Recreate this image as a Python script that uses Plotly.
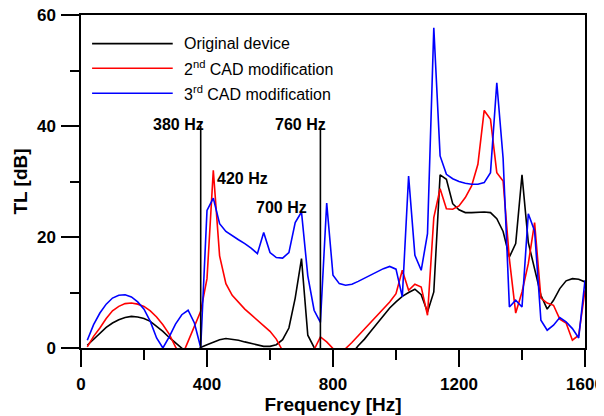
import plotly.graph_objects as go

# ---------------- data ----------------
freq_hz = [20, 40, 60, 80, 100, 120, 140, 160, 180, 200,
           220, 240, 260, 280, 300, 320, 340, 360, 380, 400,
           420, 440, 460, 480, 500, 520, 540, 560, 580, 600,
           620, 640, 660, 680, 700, 720, 740, 760, 780, 800,
           820, 840, 860, 880, 900, 920, 940, 960, 980, 1000,
           1020, 1040, 1060, 1080, 1100, 1120, 1140, 1160, 1180, 1200,
           1220, 1240, 1260, 1280, 1300, 1320, 1340, 1360, 1380, 1400,
           1420, 1440, 1460, 1480, 1500, 1520, 1540, 1560, 1580, 1600]

tl_original = [0.5, 1.6, 2.7, 3.7, 4.5, 5.1, 5.5, 5.7, 5.6, 5.3,
               4.8, 3.9, 3.0, 1.9, 0.9, -0.1, -1.0, -1.0, 0.1, 0.6,
               1.1, 1.5, 1.7, 1.6, 1.4, 1.1, 0.8, 0.5, 0.3, 0.3,
               0.6, 1.5, 3.6, 9.0, 16.1, 2.3, 0.1, -1.0, -1.0, -1.0,
               -1.0, -1.0, -1.0, 0.4, 1.6, 3.0, 4.4, 5.9, 7.2, 8.3,
               9.3, 10.0, 10.6, 9.6, 6.5, 10.1, 31.2, 30.4, 26.0, 24.9,
               24.4, 24.4, 24.5, 24.5, 24.4, 23.3, 21.0, 16.4, 18.8, 31.2,
               19.0, 14.0, 9.5, 7.0, 8.6, 10.7, 12.1, 12.5, 12.4, 11.9]

tl_cad2 = [0.2, 2.1, 3.6, 5.3, 6.7, 7.5, 8.0, 8.1, 7.9, 7.5,
           6.7, 5.6, 4.2, 2.5, 0.2, -1.5, 1.2, 3.8, 6.6, 12.5,
           32.0, 16.6, 11.6, 9.5, 8.2, 7.0, 6.0, 5.0, 4.0, 3.0,
           1.6, -0.5, -2.0, -3.0, -3.0, -2.0, -0.3, 2.0, 1.1, -0.1,
           -1.0, -0.1, 1.0, 2.2, 3.4, 4.6, 5.8, 7.0, 8.3, 9.8,
           14.0, 10.4, 11.5, 11.0, 5.9, 23.5, 28.7, 25.1, 25.0, 25.6,
           27.1, 29.2, 33.1, 42.8, 41.2, 31.6, 30.1, 16.0, 6.3, 10.1,
           15.2, 22.6, 9.0, 8.1, 7.7, 5.2, 4.5, 1.4, 2.3, 10.4]

tl_cad3 = [1.4, 4.2, 6.3, 7.9, 9.0, 9.5, 9.6, 9.2, 8.3, 7.0,
           4.8, 1.8, 0.0, 2.0, 4.3, 6.0, 6.8, 4.5, 0.1, 24.8,
           27.0, 22.4, 21.0, 20.2, 19.5, 18.8, 18.0, 17.0, 20.8, 17.2,
           16.3, 16.2, 17.2, 22.6, 24.5, 13.0, 6.8, 4.6, 26.1, 13.1,
           11.6, 11.3, 11.5, 12.0, 12.6, 13.2, 13.8, 14.3, 14.7, 14.2,
           9.2, 31.0, 16.7, 14.0, 20.6, 57.7, 34.6, 31.3, 30.5, 30.0,
           29.7, 29.5, 29.5, 29.8, 31.6, 47.8, 34.2, 7.4, 8.6, 7.4,
           24.2, 21.1, 5.0, 3.2, 4.1, 5.5, 4.7, 3.5, 1.8, 12.2]

series_names = ["Original device",
                "2<sup>nd</sup> CAD modification",
                "3<sup>rd</sup> CAD modification"]
series_values = [tl_original, tl_cad2, tl_cad3]
series_colors = ["#000000", "#ff0000", "#0000ff"]

# vertical marker lines (frequency, height in dB)
marker_freqs = [380, 760]
marker_top = 40

# peak labels: text, frequency position, dB position
label_texts = ["380 Hz", "760 Hz", "420 Hz", "700 Hz"]
label_freqs = [311, 698, 514, 635]
label_dbs = [40.3, 40.3, 30.6, 25.3]

x_ticks = [0, 400, 800, 1200, 1600]
y_ticks = [0, 20, 40, 60]

FONT = "Liberation Sans, Arial, Helvetica, sans-serif"

fig = go.Figure()

for name, vals, col in zip(series_names, series_values, series_colors):
    fig.add_trace(go.Scatter(x=freq_hz, y=vals, mode="lines", name=name,
                             line=dict(color=col, width=1.6),
                             showlegend=False))

for f in marker_freqs:
    fig.add_trace(go.Scatter(x=[f, f], y=[0, marker_top], mode="lines",
                             line=dict(color="#000000", width=1.6),
                             showlegend=False, hoverinfo="skip"))

for t, fx, fy in zip(label_texts, label_freqs, label_dbs):
    fig.add_annotation(x=fx, y=fy, xref="x", yref="y", text="<b>%s</b>" % t,
                       showarrow=False, xanchor="center", yanchor="middle",
                       font=dict(family=FONT, size=16, color="#000000"))

# hand-drawn legend (long line samples like the reference)
legend_rows_y = [0.914, 0.840, 0.765]
for name, col, ly in zip(series_names, series_colors, legend_rows_y):
    fig.add_shape(type="line", xref="paper", yref="paper",
                  x0=0.022, x1=0.182, y0=ly, y1=ly,
                  line=dict(color=col, width=1.6))
    fig.add_annotation(x=0.200, y=ly, xref="paper", yref="paper", text=name,
                       showarrow=False, xanchor="left", yanchor="middle",
                       font=dict(family=FONT, size=16, color="#000000"))

# page body adds an 8px offset, so the figure is 8px smaller on each side
fig.update_layout(
    width=596, height=408,
    margin=dict(l=73, r=19, t=7, b=68, autoexpand=False),
    paper_bgcolor="white", plot_bgcolor="white",
    font=dict(family=FONT, color="#000000"),
    showlegend=False,
)

fig.update_xaxes(
    automargin=False, ticklabeloverflow="allow",
    range=[0, 1600], tickvals=x_ticks, ticktext=["<b>%d</b>" % v for v in x_ticks],
    showgrid=False, zeroline=False,
    showline=True, linecolor="#000000", linewidth=1.5, mirror=True,
    ticks="outside", ticklen=17, tickwidth=1.5, tickcolor="#000000",
    minor=dict(dtick=200, ticks="outside", ticklen=10, tickwidth=1.5, tickcolor="#000000"),
    tickfont=dict(family=FONT, size=17, color="#000000"),
    ticklabelstandoff=3,
    title=dict(text="<b>Frequency [Hz]</b>", font=dict(family=FONT, size=19, color="#000000"),
               standoff=5),
)

fig.update_yaxes(
    automargin=False, ticklabeloverflow="allow",
    range=[0, 60], tickvals=y_ticks, ticktext=["<b>%d</b>" % v for v in y_ticks],
    showgrid=False, zeroline=False,
    showline=True, linecolor="#000000", linewidth=1.5, mirror=True,
    ticks="outside", ticklen=18, tickwidth=1.5, tickcolor="#000000",
    minor=dict(dtick=10, ticks="outside", ticklen=9, tickwidth=1.5, tickcolor="#000000"),
    tickfont=dict(family=FONT, size=17, color="#000000"),
    ticklabelstandoff=2,
    title=dict(text="<b>TL [dB]</b>", font=dict(family=FONT, size=19, color="#000000"),
               standoff=4),
)

fig.write_html("out.html")
